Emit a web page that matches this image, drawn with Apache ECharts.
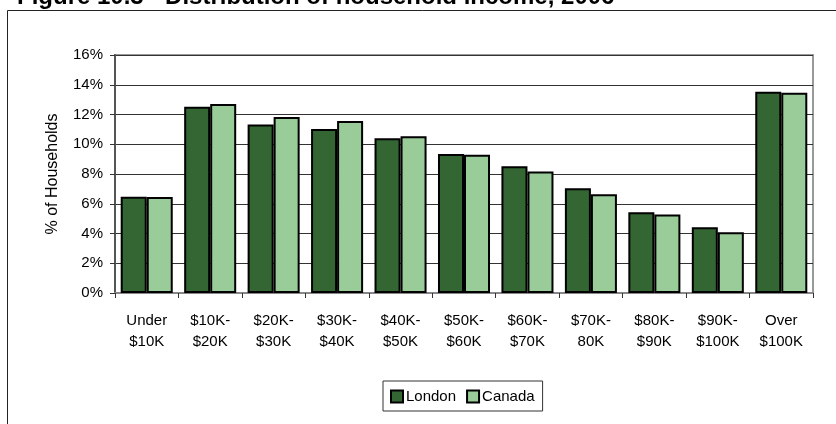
<!DOCTYPE html>
<html>
<head>
<meta charset="utf-8">
<script src="https://cdn.jsdelivr.net/npm/echarts@6/dist/echarts.min.js"></script>
<style>
html,body{margin:0;padding:0;background:#fff;}
#chart{width:836px;height:424px;}
</style>
</head>
<body>
<div id="chart"></div>
<script>
const categories = ['Under\n$10K', '$10K-\n$20K', '$20K-\n$30K', '$30K-\n$40K', '$40K-\n$50K', '$50K-\n$60K', '$60K-\n$70K', '$70K-\n80K', '$80K-\n$90K', '$90K-\n$100K', 'Over\n$100K'];
const london = [6.47, 12.52, 11.32, 11.03, 10.40, 9.34, 8.52, 7.05, 5.43, 4.42, 13.53];
const canada = [6.45, 12.70, 11.83, 11.56, 10.53, 9.30, 8.16, 6.64, 5.27, 4.08, 13.47];
const yTicks = [0, 2, 4, 6, 8, 10, 12, 14, 16];
const titleText = 'Figure 10.3 - Distribution of household income, 2006';

const FONT = '"Liberation Sans", Arial, sans-serif';
const chart = echarts.init(document.getElementById('chart'), null, {renderer: 'canvas'});
chart.setOption({
  animation: false,
  backgroundColor: '#fff',
  graphic: [
    {type: 'rect', shape: {x: 7.5, y: 10.5, width: 900, height: 500}, style: {fill: 'none', stroke: '#222', lineWidth: 1}, z: -10},
    {type: 'text', x: 17, y: -3, style: {text: titleText, font: 'bold 24px "Liberation Sans", Arial, sans-serif', fill: '#000', verticalAlign: 'middle', align: 'left'}}
  ],
  grid: {left: 115, top: 55, width: 698, height: 238, show: true, borderColor: '#999', borderWidth: 2, backgroundColor: 'transparent'},
  legend: {
    left: 383, top: 381, orient: 'horizontal',
    padding: [8, 8, 7, 7],
    borderColor: '#333', borderWidth: 1,
    itemWidth: 12, itemHeight: 12, itemGap: 10,
    icon: 'rect',
    textStyle: {fontFamily: FONT, fontSize: 15, color: '#000', padding: [0, 0, 0, -2]},
    data: ['London', 'Canada']
  },
  xAxis: {
    type: 'category', data: categories,
    axisLine: {lineStyle: {color: '#888', width: 2}},
    axisTick: {show: true, length: 5, alignWithLabel: false, interval: 0, lineStyle: {color: '#333', width: 1}},
    axisLabel: {interval: 0, margin: 17, fontFamily: FONT, fontSize: 15, color: '#000', lineHeight: 21}
  },
  yAxis: {
    type: 'value', min: 0, max: 16, interval: 2,
    name: '% of Households', nameLocation: 'middle', nameGap: 54, nameRotate: 90,
    nameTextStyle: {fontFamily: FONT, fontSize: 16, color: '#000'},
    axisLine: {show: true, lineStyle: {color: '#555', width: 2}},
    axisTick: {show: true, length: 5, lineStyle: {color: '#333'}},
    axisLabel: {margin: 12, fontFamily: FONT, fontSize: 15, color: '#000', formatter: v => v + '%'},
    splitLine: {show: true, lineStyle: {color: '#333', width: 1}}
  },
  series: [
    {name: 'London', type: 'bar', data: london, barGap: '0%', barCategoryGap: '18%',
     itemStyle: {color: '#336633', borderColor: '#000', borderWidth: 2}},
    {name: 'Canada', type: 'bar', data: canada, barGap: '0%', barCategoryGap: '18%',
     itemStyle: {color: '#99CC99', borderColor: '#000', borderWidth: 2}}
  ]
});
</script>
</body>
</html>
